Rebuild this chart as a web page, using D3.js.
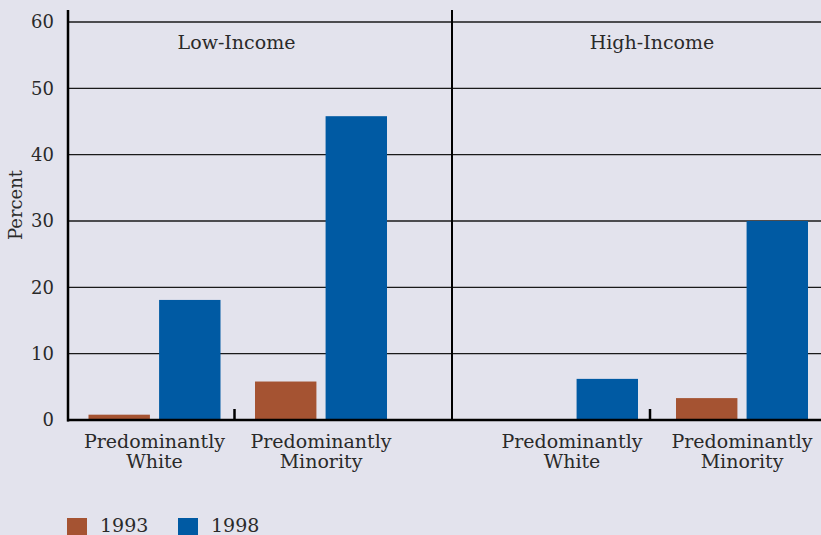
<!DOCTYPE html>
<html><head><meta charset="utf-8">
<script src="https://cdn.jsdelivr.net/npm/d3@7"></script>
<style>
html,body{margin:0;padding:0;background:#e3e3ed;}
svg{display:block;font-family:"DejaVu Serif",serif;}
</style></head>
<body><div id="chart"></div>
<script>
const panels = ["Low-Income", "High-Income"];
const groups = ["Predominantly White", "Predominantly Minority"];
const groupLines = [["Predominantly", "White"], ["Predominantly", "Minority"]];
const years = ["1993", "1998"];
const values1993 = [[0.8, 5.8], [0, 3.3]];
const values1998 = [[18.1, 45.8], [6.2, 30.0]];
const yTicks = [0, 10, 20, 30, 40, 50, 60];
const colors = ["#a55332", "#005aa3"];

const W = 821, H = 535;
const svg = d3.select("#chart").append("svg").attr("width", W).attr("height", H);
svg.append("rect").attr("width", W).attr("height", H).attr("fill", "#e3e3ed");

const axisX = 68, divX = 452, baseY = 420;
const y = d3.scaleLinear().domain([0, 60]).range([baseY, 22]);

// gridlines
svg.append("g").selectAll("line").data(yTicks.filter(d => d > 0)).join("line")
  .attr("x1", axisX).attr("x2", W).attr("y1", d => y(d)).attr("y2", d => y(d))
  .attr("stroke", "#1a1a1a").attr("stroke-width", 1.4);

// y axis labels
const yAxis = d3.axisLeft(y).tickValues(yTicks).tickSize(0).tickPadding(14);
const ya = svg.append("g").attr("transform", `translate(${axisX},0)`).call(yAxis);
ya.select(".domain").remove();
ya.selectAll("text").attr("font-size", 18).attr("fill", "#2a2a2a").attr("font-family", "DejaVu Serif");

svg.append("text").attr("transform", `translate(22,205) rotate(-90)`)
  .attr("text-anchor", "middle").attr("font-size", 18).attr("fill", "#2a2a2a").text("Percent");

// panel scales
const panelRanges = [[68, 401], [480, 820]];
const panelOffsets = [20.5, 26];
panels.forEach((p, pi) => {
  const x = d3.scaleBand().domain(groups).range(panelRanges[pi]).padding(0);
  const inner = d3.scaleBand().domain(years).range([0, 132]).paddingInner(0.13);
  const g = svg.append("g");
  groups.forEach((grp, gi) => {
    const x0 = x(grp) + panelOffsets[pi];
    const vals = [values1993[pi][gi], values1998[pi][gi]];
    vals.forEach((v, yi) => {
      if (v <= 0) return;
      g.append("rect").attr("x", x0 + inner(years[yi])).attr("width", inner.bandwidth())
        .attr("y", y(v)).attr("height", baseY - y(v)).attr("fill", colors[yi]);
    });
    const cx = x0 + 66;
    const t = g.append("text").attr("text-anchor", "middle").attr("font-size", 19).attr("fill", "#2a2a2a");
    groupLines[gi].forEach((ln, li) => {
      t.append("tspan").attr("x", cx).attr("y", 448 + li * 20).text(ln);
    });
  });
  // tick between groups
  const tx = x(groups[1]);
  svg.append("line").attr("x1", tx).attr("x2", tx).attr("y1", baseY).attr("y2", 409)
    .attr("stroke", "#000").attr("stroke-width", 2.5);
  svg.append("text").attr("x", tx + 2).attr("y", 49).attr("text-anchor", "middle")
    .attr("font-size", 19).attr("fill", "#2a2a2a").text(p);
});

// axes lines
svg.append("line").attr("x1", axisX).attr("x2", axisX).attr("y1", 10).attr("y2", baseY + 1.5)
  .attr("stroke", "#000").attr("stroke-width", 2.5);
svg.append("line").attr("x1", divX).attr("x2", divX).attr("y1", 10).attr("y2", baseY)
  .attr("stroke", "#000").attr("stroke-width", 2);
svg.append("line").attr("x1", axisX - 1).attr("x2", W).attr("y1", baseY).attr("y2", baseY)
  .attr("stroke", "#000").attr("stroke-width", 2.5);

// legend
const legX = [67, 178];
years.forEach((yr, i) => {
  svg.append("rect").attr("x", legX[i]).attr("y", 518).attr("width", 20).attr("height", 17).attr("fill", colors[i]);
  svg.append("text").attr("x", legX[i] + 33).attr("y", 532).attr("font-size", 19).attr("fill", "#2a2a2a").text(yr);
});
</script></body></html>
